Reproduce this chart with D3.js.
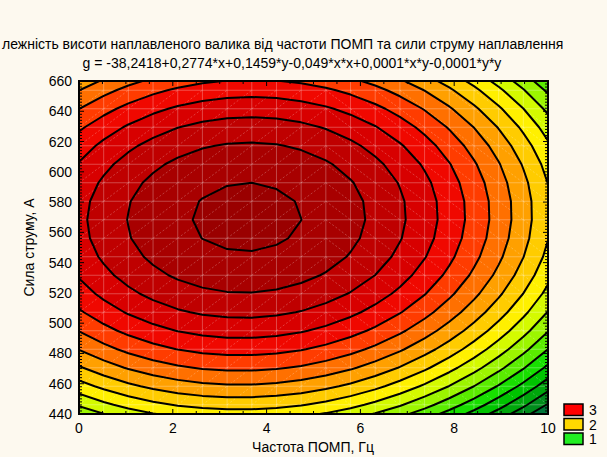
<!DOCTYPE html>
<html><head><meta charset="utf-8">
<script src="https://cdn.jsdelivr.net/npm/d3@7"></script>
<style>
html,body{margin:0;padding:0;background:#fdf9ef;overflow:hidden;}
svg{display:block;}
text{font-family:"Liberation Sans",Arial,sans-serif;fill:#000;}
</style></head><body>
<svg id="chart" width="607" height="457"></svg>
<script>
// ---- data ----
const titleLines = [
  "лежність висоти наплавленого валика від частоти ПОМП та сили струму наплавлення",
  "g = -38,2418+0,2774*x+0,1459*y-0,049*x*x+0,0001*x*y-0,0001*y*y"
];
const xLabel = "Частота ПОМП, Гц";
const yLabel = "Сила струму, А";
// fitted surface coefficients [b0, bx, by, bxx, bxy, byy] (title shows them rounded)
const coef = [-38.2418, 0.2774, 0.14588, -0.049, 0.0001275, -0.0001284];
const xDomain = [0, 10];
const yDomain = [440, 660];
const xTicks = [0, 2, 4, 6, 8, 10];
const yTicks = [440, 460, 480, 500, 520, 540, 560, 580, 600, 620, 640, 660];
const levels = [-0.25, 0, 0.25, 0.5, 0.75, 1, 1.25, 1.5, 1.75, 2, 2.25, 2.5, 2.75, 3, 3.25, 3.5, 3.75];
const bandColors = ["#00763a", "#008c1c", "#00a60c", "#00c300", "#18df00", "#5aec00", "#9cf500", "#d4fa00",
  "#fff000", "#ffcc00", "#ffa000", "#ff7000", "#ff3c00", "#f00800", "#d80000", "#bf0000", "#a80000", "#9a0000"];
const legendLabels = ["3", "2", "1"];
const legendColors = ["#ff0000", "#ffd800", "#22ee22"];
const gridCols = 19, gridRows = 18;

// ---- layout ----
const svg = d3.select("#chart");
const W = 607, H = 457;
const m = {left: 79, right: 548, top: 81, bottom: 414};
svg.append("rect").attr("width", W).attr("height", H).attr("fill", "#fdf9ef");
const xs = d3.scaleLinear().domain(xDomain).range([m.left, m.right]);
const ys = d3.scaleLinear().domain(yDomain).range([m.bottom, m.top]);

const g = (x, y) => coef[0] + coef[1]*x + coef[2]*y + coef[3]*x*x + coef[4]*x*y + coef[5]*y*y;

// grid (padded by one on each side)
const dxs = (xDomain[1]-xDomain[0]) / gridCols;
const dys = (yDomain[1]-yDomain[0]) / gridRows;
const nx = gridCols + 3, ny = gridRows + 2;
const values = new Array(nx*ny);
for (let r = 0; r < ny; r++) {
  const yv = yDomain[1] - (r - 0.5) * dys;
  for (let i = 0; i < nx; i++) {
    const xv = xDomain[0] + (i - 1) * dxs;
    values[r*nx + i] = g(xv, yv);
  }
}
const cx2x = c => xDomain[0] + (c - 1.5) * dxs;
const cy2y = c => yDomain[1] - (c - 1) * dys;
const path = d3.geoPath(d3.geoTransform({
  point(px, py) { this.stream.point(xs(cx2x(px)), ys(cy2y(py))); }
}));
const contours = d3.contours().size([nx, ny]).thresholds(levels)(values);

svg.append("clipPath").attr("id", "clip").append("rect")
  .attr("x", m.left).attr("y", m.top).attr("width", m.right-m.left).attr("height", m.bottom-m.top);
const plot = svg.append("g").attr("clip-path", "url(#clip)");
plot.append("rect").attr("x", m.left).attr("y", m.top).attr("width", m.right-m.left).attr("height", m.bottom-m.top)
  .attr("fill", bandColors[0]);
plot.selectAll("path.band").data(contours).join("path").attr("class", "band")
  .attr("d", path).attr("fill", (d, i) => bandColors[i+1]).attr("stroke", "none");

// faint mesh
const mesh = plot.append("g");
const gxVals = d3.range(1, gridCols).map(i => xDomain[0] + i*dxs);
const gyVals = d3.range(0, gridRows).map(j => yDomain[1] - (j + 0.5)*dys);
mesh.selectAll("line.v").data(gxVals).join("line")
  .attr("x1", d => xs(d)).attr("x2", d => xs(d)).attr("y1", m.top).attr("y2", m.bottom)
  .attr("stroke", "#fff").attr("stroke-opacity", 0.28).attr("stroke-width", 1);
mesh.selectAll("line.h").data(gyVals).join("line")
  .attr("y1", d => ys(d)).attr("y2", d => ys(d)).attr("x1", m.left).attr("x2", m.right)
  .attr("stroke", "#fff").attr("stroke-opacity", 0.28).attr("stroke-width", 1);
const diag = [];
for (let i = 0; i < gridCols; i++) for (let j = 0; j < gridRows - 1; j++) {
  const x0 = xDomain[0] + i*dxs, x1 = x0 + dxs;
  const yT = gyVals[j], yB = gyVals[j+1];
  if (i < 10) diag.push([x0, yB, x1, yT]); else diag.push([x0, yT, x1, yB]);
}
mesh.selectAll("line.d").data(diag).join("line")
  .attr("x1", d => xs(d[0])).attr("y1", d => ys(d[1])).attr("x2", d => xs(d[2])).attr("y2", d => ys(d[3]))
  .attr("stroke", "#fff").attr("stroke-opacity", 0.3).attr("stroke-width", 0.8).attr("stroke-dasharray", "2,2");

plot.selectAll("path.iso").data(contours).join("path").attr("class", "iso")
  .attr("d", path).attr("fill", "none").attr("stroke", "#000").attr("stroke-width", 2).attr("stroke-linejoin", "round");

// frame
svg.append("rect").attr("x", m.left).attr("y", m.top).attr("width", m.right-m.left).attr("height", m.bottom-m.top)
  .attr("fill", "none").attr("stroke", "#000").attr("stroke-width", 2);

// inward ticks
const tk = svg.append("g").attr("stroke", "#000").attr("stroke-width", 1);
const xMinor = d3.range(0, 20 + 1).map(i => xDomain[0] + i*0.5);
xMinor.forEach(v => {
  const L = xTicks.includes(v) ? 5 : 3;
  tk.append("line").attr("x1", xs(v)).attr("x2", xs(v)).attr("y1", m.bottom).attr("y2", m.bottom - L);
  tk.append("line").attr("x1", xs(v)).attr("x2", xs(v)).attr("y1", m.top).attr("y2", m.top + L);
});
const yMinor = d3.range(0, 111).map(i => yDomain[0] + i*2);
yMinor.forEach(v => {
  const L = yTicks.includes(v) ? 5 : 3;
  tk.append("line").attr("y1", ys(v)).attr("y2", ys(v)).attr("x1", m.left).attr("x2", m.left + L);
  tk.append("line").attr("y1", ys(v)).attr("y2", ys(v)).attr("x1", m.right).attr("x2", m.right - L);
});

// tick labels
const fs = 14;
svg.append("g").selectAll("text").data(xTicks).join("text")
  .attr("x", d => xs(d)).attr("y", 433).attr("text-anchor", "middle").attr("font-size", fs).text(d => d);
svg.append("g").selectAll("text").data(yTicks).join("text")
  .attr("x", 72).attr("y", d => ys(d) + 5).attr("text-anchor", "end").attr("font-size", fs).text(d => d);

// titles
svg.append("text").attr("x", 2).attr("y", 49).attr("text-anchor", "start").attr("font-size", fs).text(titleLines[0]);
svg.append("text").attr("x", 292).attr("y", 68).attr("text-anchor", "middle").attr("font-size", fs).text(titleLines[1]);
svg.append("text").attr("x", 313).attr("y", 452).attr("text-anchor", "middle").attr("font-size", fs).text(xLabel);
svg.append("text").attr("transform", "translate(34,247.5) rotate(-90)").attr("text-anchor", "middle")
  .attr("font-size", fs).text(yLabel);

// legend
const lg = svg.append("g");
legendLabels.forEach((lab, i) => {
  const y0 = 404 + i*14.5;
  lg.append("rect").attr("x", 564).attr("y", y0).attr("width", 19).attr("height", 11.5)
    .attr("fill", legendColors[i]).attr("stroke", "#000").attr("stroke-width", 1.5);
  lg.append("text").attr("x", 589).attr("y", y0 + 11).attr("font-size", fs).text(lab);
});
</script>
</body></html>
